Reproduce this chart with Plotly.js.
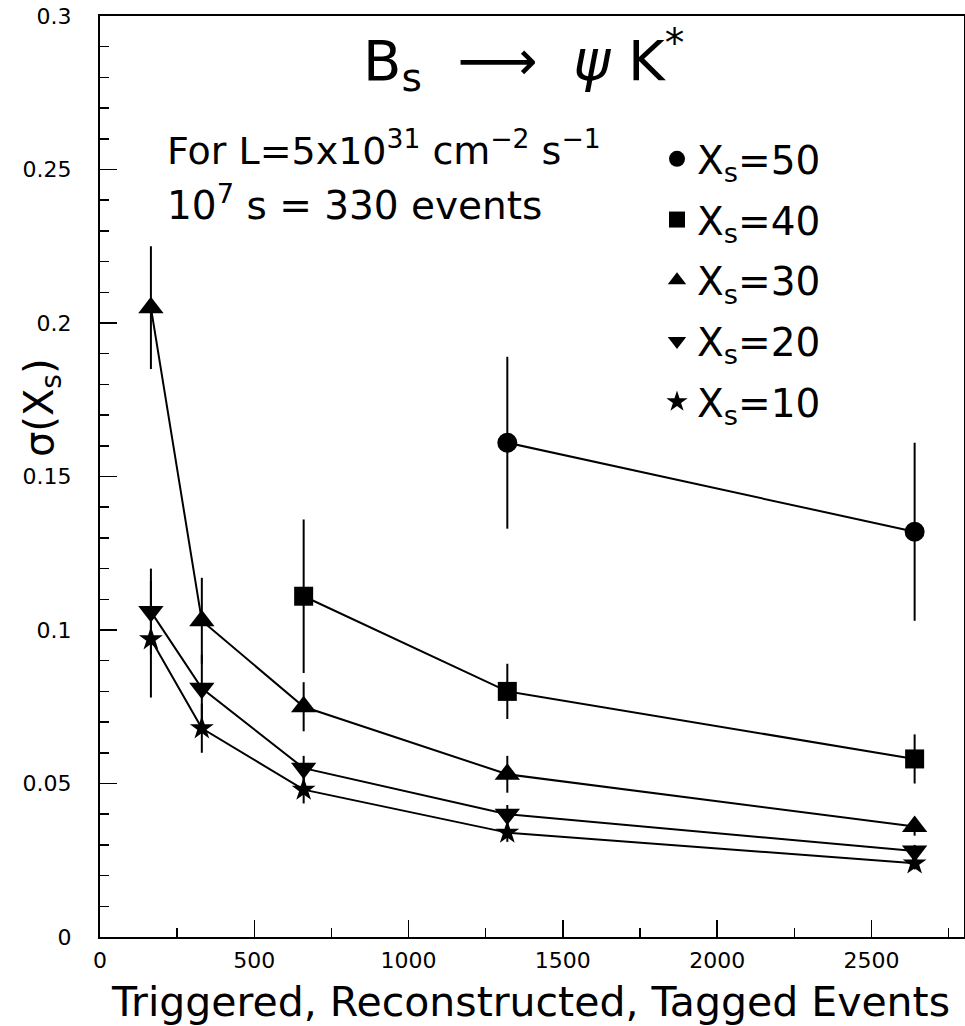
<!DOCTYPE html>
<html><head><meta charset="utf-8">
<script src="https://cdn.plot.ly/plotly-3.0.1.min.js"></script>
<style>html,body{margin:0;padding:0;background:#fff}</style>
</head><body>
<div id="chart" style="width:965px;height:1026px"></div>
<script>
// Data
const events = [165, 330, 660, 1320, 2640];

const xs50_x = [1320, 2640];
const xs50_y = [0.161, 0.132];
const xs50_err = [0.028, 0.029];

const xs40_x = [660, 1320, 2640];
const xs40_y = [0.111, 0.080, 0.058];
const xs40_err = [0.025, 0.009, 0.008];

const xs30_y = [0.205, 0.103, 0.075, 0.053, 0.036];
const xs30_err = [0.020, 0.014, 0.008, 0.006, 0.003];

const xs20_y = [0.106, 0.081, 0.055, 0.040, 0.028];
const xs20_err = [0.014, 0.011, 0.004, 0.003, 0.002];

const xs10_y = [0.097, 0.068, 0.048, 0.034, 0.024];
const xs10_err = [0.019, 0.008, 0.0045, 0.003, 0.002];

const seriesNames = ['X<sub>s</sub>=50', 'X<sub>s</sub>=40', 'X<sub>s</sub>=30', 'X<sub>s</sub>=20', 'X<sub>s</sub>=10'];
const symbols = ['circle', 'square', 'triangle-up', 'triangle-down', 'star'];
const sizes = [20, 19, 22, 22, 18];

const FONT = 'DejaVu Sans';

const seriesData = [
  {x: xs50_x, y: xs50_y, e: xs50_err},
  {x: xs40_x, y: xs40_y, e: xs40_err},
  {x: events, y: xs30_y, e: xs30_err},
  {x: events, y: xs20_y, e: xs20_err},
  {x: events, y: xs10_y, e: xs10_err}
];

const traces = [];
seriesData.forEach((s, i) => {
  traces.push({
    type: 'scatter', mode: 'lines+markers',
    x: s.x, y: s.y,
    error_y: {type: 'data', array: s.e, visible: true, thickness: 2, width: 0, color: '#000'},
    line: {color: '#000', width: 2},
    marker: {symbol: symbols[i], size: sizes[i], color: '#000', line: {width: 0}},
    showlegend: false, hoverinfo: 'skip'
  });
});
seriesData.forEach((s, i) => {
  traces.push({
    type: 'scatter', mode: 'markers',
    x: [null], y: [null],
    name: seriesNames[i], legendgroup: 'g' + i,
    marker: {symbol: symbols[i], size: 16, color: '#000', line: {width: 0}},
    showlegend: true
  });
});

const L = 100, T = 16, W = 864, H = 921;
function px(p) { return (p - L) / W; }
function py(p) { return (T + H - p) / H; }

const layout = {
  width: 965, height: 1026,
  margin: {l: 100, r: 1, t: 16, b: 89, pad: 0},
  paper_bgcolor: '#fff', plot_bgcolor: '#fff',
  font: {family: FONT, color: '#000'},
  showlegend: true,
  legend: {
    x: px(657), y: py(127), xanchor: 'left', yanchor: 'top',
    font: {family: FONT, size: 39, color: '#000'},
    bgcolor: 'rgba(0,0,0,0)', borderwidth: 0, tracegroupgap: 7
  },
  xaxis: {
    range: [0, 2800], dtick: 500, tick0: 0,
    ticks: 'inside', ticklen: 17, tickwidth: 1.5, tickcolor: '#000',
    minor: {dtick: 250, ticks: 'inside', ticklen: 9, tickwidth: 1.5, tickcolor: '#000'},
    showgrid: false, zeroline: false,
    showline: true, linecolor: '#000', linewidth: 2, mirror: true,
    tickfont: {family: FONT, size: 22, color: '#000'},
    ticklabelstandoff: 3
  },
  yaxis: {
    range: [0, 0.3], dtick: 0.05, tick0: 0,
    ticks: 'inside', ticklen: 17, tickwidth: 1.5, tickcolor: '#000',
    minor: {dtick: 0.01, ticks: 'inside', ticklen: 9, tickwidth: 1.5, tickcolor: '#000'},
    showgrid: false, zeroline: false,
    showline: true, linecolor: '#000', linewidth: 2, mirror: true,
    tickfont: {family: FONT, size: 22, color: '#000'},
    ticklabelstandoff: 22
  },
  annotations: [
    {xref: 'paper', yref: 'paper', x: px(523), y: py(60), xanchor: 'center', yanchor: 'middle',
     text: 'B<sub>s</sub>\u00A0 \u27F6 \u00A0<i>\u03C8</i> K<sup>*</sup>', showarrow: false,
     font: {family: FONT, size: 56, color: '#000'}},
    {xref: 'paper', yref: 'paper', x: px(165), y: py(148), xanchor: 'left', yanchor: 'middle',
     text: 'For L=5x10<sup>31</sup> cm<sup>\u22122</sup> s<sup>\u22121</sup>', showarrow: false,
     font: {family: FONT, size: 38, color: '#000'}},
    {xref: 'paper', yref: 'paper', x: px(165), y: py(203), xanchor: 'left', yanchor: 'middle',
     text: '10<sup>7</sup> s = 330 events', showarrow: false,
     font: {family: FONT, size: 39, color: '#000'}},
    {xref: 'paper', yref: 'paper', x: px(42), y: py(407), xanchor: 'center', yanchor: 'middle',
     textangle: -90, text: '\u03C3(X<sub>s</sub>)', showarrow: false,
     font: {family: FONT, size: 40, color: '#000'}},
    {xref: 'paper', yref: 'paper', x: px(530), y: py(1002), xanchor: 'center', yanchor: 'middle',
     text: 'Triggered, Reconstructed, Tagged Events', showarrow: false,
     font: {family: FONT, size: 41, color: '#000'}}
  ]
};

Plotly.newPlot('chart', traces, layout, {displayModeBar: false, staticPlot: true});
</script>
</body></html>
